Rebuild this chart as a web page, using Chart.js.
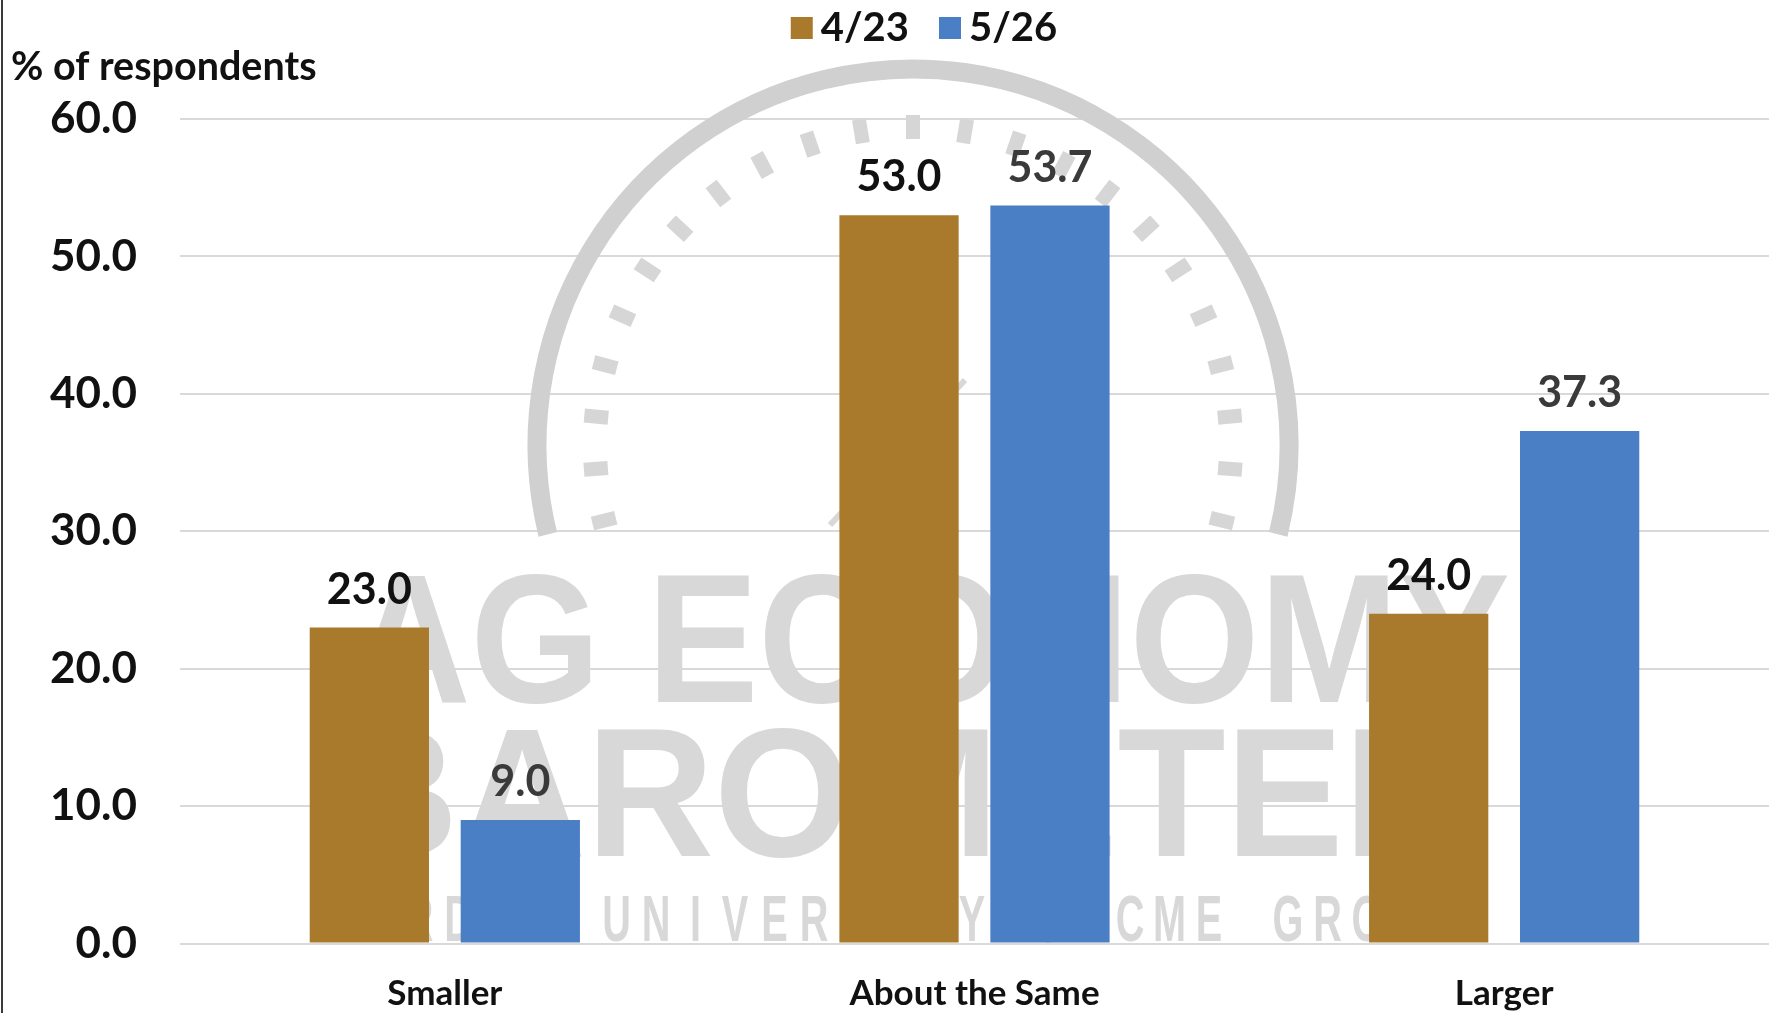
<!DOCTYPE html>
<html>
<head>
<meta charset="utf-8">
<title>Ag Economy Barometer</title>
<script src="https://cdn.jsdelivr.net/npm/chart.js@4.4.1/dist/chart.umd.min.js"></script>
<style>
  html, body { margin: 0; padding: 0; background: #fff; }
  #wrap { width: 1789px; height: 1013px; }
</style>
</head>
<body>
<div id="wrap"><canvas id="surveyChart" width="1789" height="1013"></canvas></div>
<script>
// data
const categories = ['Smaller', 'About the Same', 'Larger'];
const seriesLabels = ['4/23', '5/26'];
const aprilValues = [23.0, 53.0, 24.0];
const mayValues = [9.0, 53.7, 37.3];
const yTicks = [0, 10, 20, 30, 40, 50, 60];
const yTitle = '% of respondents';
const watermarkLines = ['AG ECONOMY', 'BAROMETER', 'PURDUE UNIVERSITY / CME GROUP'];

const FONT = 'Lato, "Open Sans", sans-serif';
const GOLD = '#A97A2C';
const BLUE = '#4A7EC5';

// value labels above every bar
const barLabels = {
    id: 'barLabels',
    afterDatasetsDraw(chart) {
        const ctx = chart.ctx;
        ctx.save();
        ctx.font = `bold 43px ${FONT}`;
        ctx.textAlign = 'center';
        ctx.textBaseline = 'alphabetic';
        chart.data.datasets.forEach((ds, i) => {
            ctx.fillStyle = ds.labelColor;
            chart.getDatasetMeta(i).data.forEach((bar, j) => {
                ctx.fillText(ds.data[j].toFixed(1), bar.x, bar.y - 24);
            });
        });
        ctx.restore();
    }
};

// faint barometer logo behind the bars
const watermark = {
    id: 'watermark',
    beforeDatasetsDraw(chart) {
        const ctx = chart.ctx;
        ctx.save();
        const cx = 913, cy = 445, r = 376;
        ctx.strokeStyle = '#d0d0d0';
        ctx.lineWidth = 19;
        ctx.beginPath();
        ctx.arc(cx, cy, r, Math.PI - 0.24, 0.24);
        ctx.stroke();

        // dial ticks
        ctx.fillStyle = '#d6d6d6';
        const a0 = Math.PI - 0.24, sweep = Math.PI + 0.48, n = 23;
        for (let i = 0; i < n; i++) {
            const a = a0 + sweep * i / (n - 1);
            ctx.save();
            ctx.translate(cx + Math.cos(a) * 318, cy + Math.sin(a) * 318);
            ctx.rotate(a + Math.PI / 2);
            ctx.fillRect(-7, -12, 14, 24);
            ctx.restore();
        }
        // needle
        ctx.strokeStyle = '#d8d8d8';
        ctx.lineWidth = 6;
        ctx.beginPath();
        ctx.moveTo(830, 525);
        ctx.lineTo(965, 380);
        ctx.stroke();

        ctx.fillStyle = '#d8d8d8';
        ctx.textAlign = 'center';
        ctx.textBaseline = 'alphabetic';
        ctx.font = `bold 184px "Liberation Sans", Arial, sans-serif`;
        const fitLine = (txt, x, y, w) => {
            const k = w / ctx.measureText(txt).width;
            ctx.save();
            ctx.translate(x, y);
            ctx.scale(k, 1);
            ctx.fillText(txt, 0, 0);
            ctx.restore();
        };
        fitLine(watermarkLines[0], 930, 702, 1160);
        fitLine(watermarkLines[1], 901, 856, 1141);

        ctx.font = `bold 64px "Liberation Sans", Arial, sans-serif`;
        const small = watermarkLines[2];
        const pitch = 39.5;
        for (let i = 0; i < small.length; i++) {
            ctx.save();
            ctx.translate(340 + i * pitch, 941);
            ctx.scale(0.62, 1);
            ctx.fillText(small[i], 0, 0);
            ctx.restore();
        }
        ctx.restore();
    }
};

// legend, axis caption and left frame line
const decorations = {
    id: 'decorations',
    afterDraw(chart) {
        const ctx = chart.ctx;
        ctx.save();

        // legend row
        ctx.font = `bold 40px ${FONT}`;
        ctx.textBaseline = 'middle';
        ctx.textAlign = 'left';
        const box = 22, gap = 8, itemGap = 30;
        const items = chart.data.datasets.map(ds => ({
            text: ds.label, color: ds.backgroundColor, w: ctx.measureText(ds.label).width
        }));
        const total = items.reduce((s, it) => s + box + gap + it.w, 0) + itemGap * (items.length - 1);
        let x = 924 - total / 2;
        items.forEach(it => {
            ctx.fillStyle = it.color;
            ctx.fillRect(x, 17, box, box);
            ctx.fillStyle = '#111';
            ctx.fillText(it.text, x + box + gap, 28);
            x += box + gap + it.w + itemGap;
        });

        // axis caption
        ctx.font = `bold 39.5px ${FONT}`;
        ctx.fillText(yTitle, 11, 67);

        ctx.fillStyle = '#3a3a3a';
        ctx.fillRect(1, 0, 2, chart.height);
        ctx.restore();
    }
};

const ctx = document.getElementById('surveyChart').getContext('2d');
const surveyChart = new Chart(ctx, {
    type: 'bar',
    data: {
        labels: categories,
        datasets: [{
            label: seriesLabels[0],
            data: aprilValues,
            backgroundColor: GOLD,
            labelColor: '#111111',
            categoryPercentage: 0.57,
            barPercentage: 0.79
        }, {
            label: seriesLabels[1],
            data: mayValues,
            backgroundColor: BLUE,
            labelColor: '#3a3a3a',
            categoryPercentage: 0.57,
            barPercentage: 0.79
        }]
    },
    options: {
        responsive: false,
        animation: false,
        layout: { padding: { left: 0, right: 20, top: 119, bottom: 0 } },
        scales: {
            x: {
                ticks: { color: '#111', padding: 29, font: { family: FONT, size: 35, weight: 'bold' } },
                grid: { display: false, drawTicks: false },
                border: { display: false },
                afterFit(scale) { scale.height = 67; }
            },
            y: {
                min: yTicks[0],
                max: yTicks[yTicks.length - 1],
                ticks: {
                    stepSize: yTicks[1] - yTicks[0],
                    color: '#111',
                    padding: 43,
                    font: { family: FONT, size: 44, weight: 'bold' },
                    callback: v => v.toFixed(1)
                },
                grid: { color: '#d9d9d9', lineWidth: 2, drawTicks: false },
                border: { display: false },
                afterFit(scale) { scale.width = 180; }
            }
        },
        plugins: {
            legend: { display: false },
            tooltip: { enabled: false }
        }
    },
    plugins: [watermark, barLabels, decorations]
});
</script>
</body>
</html>
